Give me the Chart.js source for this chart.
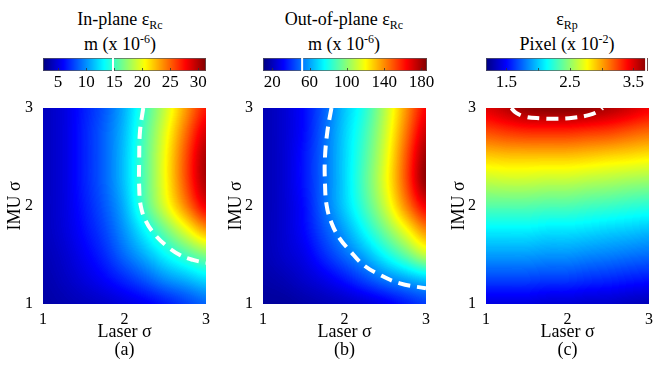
<!DOCTYPE html>
<html>
<head>
<meta charset="utf-8">
<script src="https://cdn.jsdelivr.net/npm/chart.js@4.4.1/dist/chart.umd.min.js"></script>
<style>
body { margin: 0; background: #fff; }
#fig { position: relative; width: 654px; height: 369px; overflow: hidden; font-family: "Liberation Serif", serif; color: #000; }
canvas { position: absolute; }
.ttl { position: absolute; top: 7px; width: 200px; text-align: center; font-size: 18px; line-height: 25px; white-space: nowrap; }
.sub { font-size: 12px; position: relative; top: 4px; line-height: 0; }
.sup { font-size: 12px; position: relative; top: -7px; line-height: 0; }
</style>
</head>
<body>
<div id="fig">
  <div class="ttl" style="left:20px">In-plane ε<span class="sub">Rc</span><br>m (x 10<span class="sup">-6</span>)</div>
  <div class="ttl" style="left:244px">Out-of-plane ε<span class="sub">Rc</span><br>m (x 10<span class="sup">-6</span>)</div>
  <div class="ttl" style="left:467px">ε<span class="sub">Rp</span><br>Pixel (x 10<span class="sup">-2</span>)</div>

  <canvas id="cbA" width="215" height="45" style="left:0;top:50px"></canvas>
  <canvas id="hmA" width="215" height="269" style="left:0;top:100px"></canvas>
  <canvas id="cbB" width="215" height="45" style="left:220px;top:50px"></canvas>
  <canvas id="hmB" width="215" height="269" style="left:220px;top:100px"></canvas>
  <canvas id="cbC" width="214" height="45" style="left:440px;top:50px"></canvas>
  <canvas id="hmC" width="214" height="269" style="left:440px;top:100px"></canvas>
</div>

<script>
// =====================
// DATA
// =====================
const laserSigma = [1, 1.25, 1.5, 1.75, 2, 2.25, 2.5, 2.75, 3];
const imuSigma = [1, 1.25, 1.5, 1.75, 2, 2.25, 2.5, 2.75, 3];

// rows go from IMU sigma = 1 (first) to 3 (last), columns follow laserSigma
const inPlane = [
    [3.3, 3.7, 4.0, 4.3, 4.9, 5.5, 6.4, 7.5, 8.7],
    [3.6, 4.1, 4.9, 5.8, 7.0, 8.4, 9.9, 11.0, 12.2],
    [3.8, 4.5, 5.6, 7.0, 9.0, 11.0, 13.1, 15.1, 16.9],
    [4.0, 4.8, 6.2, 7.8, 10.2, 13.1, 16.3, 19.8, 23.3],
    [4.0, 4.9, 6.5, 8.4, 11.0, 15.4, 19.6, 24.1, 28.5],
    [4.0, 4.9, 6.8, 8.7, 11.6, 15.7, 20.3, 25.6, 30.5],
    [4.0, 4.9, 6.8, 8.7, 11.6, 15.7, 20.3, 25.6, 30.5],
    [4.0, 4.9, 6.8, 8.7, 11.3, 15.4, 19.8, 24.7, 29.1],
    [4.0, 4.9, 6.6, 8.4, 11.0, 14.8, 18.9, 23.3, 27.3]
];
const outOfPlane = [
    [15, 15, 17, 19, 21, 24, 28, 35, 41],
    [17, 19, 23, 28, 35, 44, 53, 60, 66],
    [19, 23, 28, 39, 50, 62, 77, 93, 111],
    [19, 24, 32, 46, 60, 77, 96, 118, 141],
    [19, 24, 33, 51, 68, 87, 111, 141, 168],
    [19, 24, 35, 51, 69, 91, 116, 150, 186],
    [19, 24, 35, 51, 69, 89, 114, 149, 183],
    [19, 24, 33, 50, 68, 86, 111, 143, 174],
    [19, 24, 33, 48, 66, 82, 107, 138, 165]
];
const reprojection = [
    [1.41, 1.41, 1.41, 1.38, 1.38, 1.36, 1.36, 1.33, 1.31],
    [1.66, 1.66, 1.66, 1.64, 1.64, 1.61, 1.59, 1.56, 1.54],
    [1.89, 1.89, 1.89, 1.87, 1.87, 1.84, 1.82, 1.79, 1.77],
    [2.10, 2.10, 2.10, 2.07, 2.07, 2.05, 2.02, 2.00, 1.97],
    [2.35, 2.35, 2.35, 2.33, 2.33, 2.30, 2.28, 2.25, 2.23],
    [2.61, 2.63, 2.63, 2.61, 2.61, 2.58, 2.56, 2.53, 2.51],
    [2.89, 2.91, 2.91, 2.91, 2.91, 2.89, 2.86, 2.84, 2.81],
    [3.22, 3.27, 3.30, 3.30, 3.30, 3.27, 3.25, 3.19, 3.14],
    [3.50, 3.60, 3.70, 3.73, 3.73, 3.70, 3.63, 3.55, 3.45]
];

// colour ranges, colorbar ticks and the marked level
const rangeA = [2.3, 31.4];
const rangeB = [10, 186];
const rangeC = [1.18, 3.73];
const cbTicksA = [5, 10, 15, 20, 25, 30];
const cbTicksB = [20, 60, 100, 140, 180];
const cbTicksC = [1.5, 2, 2.5, 3, 3.5];
const cbLabelsA = ["5", "10", "15", "20", "25", "30"];
const cbLabelsB = ["20", "60", "100", "140", "180"];
const cbLabelsC = ["1.5", "", "2.5", "", "3.5"];
const levelA = 14.8;
const levelB = 52;
const levelC = 3.70;

// dashed contour
const contourA_x = [2.23, 2.19, 2.18, 2.18, 2.20, 2.26, 2.37, 2.52, 2.68, 2.84, 3.00];
const contourA_y = [3.00, 2.76, 2.45, 2.20, 2.00, 1.85, 1.71, 1.59, 1.50, 1.45, 1.42];
const contourB_x = [1.84, 1.79, 1.76, 1.76, 1.78, 1.84, 1.94, 2.07, 2.23, 2.43, 2.68, 3.00];
const contourB_y = [3.00, 2.76, 2.49, 2.25, 2.01, 1.83, 1.67, 1.54, 1.40, 1.30, 1.21, 1.16];
const contourC_x = [1.31, 1.37, 1.49, 1.66, 1.86, 2.07, 2.27, 2.39, 2.43];
const contourC_y = [3.00, 2.95, 2.91, 2.895, 2.89, 2.90, 2.93, 2.97, 3.00];

// =====================
// HELPERS
// =====================
Chart.defaults.font.family = "'Liberation Serif', serif";
Chart.defaults.color = "#000";

function jet(t) {
    const f = c => Math.round(255 * Math.max(0, Math.min(1, c)));
    return [f(1.5 - Math.abs(4 * t - 3)), f(1.5 - Math.abs(4 * t - 2)), f(1.5 - Math.abs(4 * t - 1))];
}

// colour ramp of the colorbar
const jetBar = {
    id: "jetBar",
    beforeDatasetsDraw(chart) {
        const { ctx, chartArea: a, scales: { x } } = chart;
        for (let px = Math.floor(a.left); px < a.right; px++) {
            const v = x.getValueForPixel(px + 0.5);
            const c = jet((v - x.min) / (x.max - x.min));
            ctx.fillStyle = `rgb(${c[0]},${c[1]},${c[2]})`;
            ctx.fillRect(px, a.top, 1, a.bottom - a.top);
        }
        ctx.save();
        ctx.strokeStyle = "rgba(50,50,50,0.8)";
        ctx.lineWidth = 1;
        x.ticks.forEach(t => {
            const px = Math.round(x.getPixelForValue(t.value)) + 0.5;
            ctx.beginPath();
            ctx.moveTo(px, a.bottom);
            ctx.lineTo(px, a.bottom - 3);
            ctx.stroke();
        });
        ctx.strokeStyle = "rgba(90,90,90,0.7)";
        ctx.strokeRect(a.left + 0.5, a.top + 0.5, a.right - a.left - 1, a.bottom - a.top - 1);
        ctx.restore();
    }
};

// heat map: grid values -> grey image -> smoothed -> jet colours
const field = {
    id: "field",
    beforeDatasetsDraw(chart, args, o) {
        const { ctx, chartArea: a, scales: { x, y } } = chart;
        const nx = o.xs.length, ny = o.ys.length;
        const src = document.createElement("canvas");
        src.width = nx;
        src.height = ny;
        const sc = src.getContext("2d");
        const img = sc.createImageData(nx, ny);
        for (let j = 0; j < ny; j++) {
            for (let i = 0; i < nx; i++) {
                const v = o.grid[ny - 1 - j][i];
                const g = Math.max(0, Math.min(255, Math.round(255 * (v - o.vmin) / (o.vmax - o.vmin))));
                const k = 4 * (j * nx + i);
                img.data[k] = img.data[k + 1] = img.data[k + 2] = g;
                img.data[k + 3] = 255;
            }
        }
        sc.putImageData(img, 0, 0);

        const w = Math.round(a.right - a.left), h = Math.round(a.bottom - a.top);
        const big = document.createElement("canvas");
        big.width = w;
        big.height = h;
        const bc = big.getContext("2d");
        bc.imageSmoothingEnabled = true;
        bc.imageSmoothingQuality = "high";
        const hx = (o.xs[1] - o.xs[0]) / 2, hy = (o.ys[1] - o.ys[0]) / 2;
        const x0 = x.getPixelForValue(o.xs[0] - hx) - a.left;
        const x1 = x.getPixelForValue(o.xs[nx - 1] + hx) - a.left;
        const y0 = y.getPixelForValue(o.ys[ny - 1] + hy) - a.top;
        const y1 = y.getPixelForValue(o.ys[0] - hy) - a.top;
        bc.drawImage(src, x0, y0, x1 - x0, y1 - y0);

        const px = bc.getImageData(0, 0, w, h);
        for (let k = 0; k < px.data.length; k += 4) {
            const c = jet(px.data[k] / 255);
            px.data[k] = c[0];
            px.data[k + 1] = c[1];
            px.data[k + 2] = c[2];
            px.data[k + 3] = 255;
        }
        bc.putImageData(px, 0, 0);
        ctx.drawImage(big, a.left, a.top);
    }
};

function makeColorbar(id, padL, padR, range, ticks, labels, level) {
    return new Chart(document.getElementById(id), {
        type: "scatter",
        data: {
            datasets: [{
                data: [{ x: level, y: 0 }, { x: level, y: 1 }],
                showLine: true,
                borderColor: "#fff",
                borderWidth: 2,
                pointRadius: 0,
                clip: 0
            }]
        },
        options: {
            responsive: false,
            animation: false,
            devicePixelRatio: 1,
            layout: { padding: { left: padL, right: padR, top: 8, bottom: 0 } },
            plugins: { legend: { display: false }, tooltip: { enabled: false } },
            scales: {
                x: {
                    type: "linear",
                    min: range[0],
                    max: range[1],
                    grid: { display: false, drawTicks: false },
                    border: { display: false },
                    afterBuildTicks: s => { s.ticks = ticks.map(v => ({ value: v })); },
                    ticks: {
                        padding: 1,
                        autoSkip: false,
                        maxRotation: 0,
                        font: { size: 17 },
                        callback: (v, i) => labels[i]
                    },
                    afterFit: s => { s.height = 24; s.paddingLeft = 0; s.paddingRight = 0; }
                },
                y: { display: false, min: 0, max: 1 }
            }
        },
        plugins: [jetBar]
    });
}

function makeHeatmap(id, axisW, padR, titleOff, grid, range, cx, cy, tag) {
    return new Chart(document.getElementById(id), {
        type: "scatter",
        data: {
            datasets: [{
                data: cx.map((v, i) => ({ x: v, y: cy[i] })),
                showLine: true,
                borderColor: "#fff",
                borderWidth: 4,
                borderDash: [12, 7],
                tension: 0.4,
                pointRadius: 0,
                clip: 0
            }]
        },
        options: {
            responsive: false,
            animation: false,
            devicePixelRatio: 1,
            layout: { padding: { left: 0, right: padR, top: 8, bottom: 0 } },
            plugins: {
                legend: { display: false },
                tooltip: { enabled: false },
                field: { grid: grid, xs: laserSigma, ys: imuSigma, vmin: range[0], vmax: range[1] }
            },
            scales: {
                x: {
                    type: "linear",
                    min: 1,
                    max: 3,
                    grid: { display: false, drawTicks: false },
                    border: { display: false },
                    ticks: { stepSize: 1, padding: 6, maxRotation: 0, font: { size: 16 } },
                    title: {
                        display: true,
                        text: ["Laser σ", tag],
                        font: { size: 18, lineHeight: 1 },
                        padding: { top: 0, bottom: 10 }
                    },
                    afterFit: s => { s.height = 65; s.paddingLeft = 0; s.paddingRight = 0; }
                },
                y: {
                    type: "linear",
                    min: 1,
                    max: 3,
                    grid: { display: false, drawTicks: false },
                    border: { display: false },
                    ticks: { stepSize: 1, padding: 10, font: { size: 16 } },
                    title: {
                        display: true,
                        text: "IMU σ",
                        font: { size: 18, lineHeight: 1 },
                        padding: { top: titleOff - 9, bottom: 0 }
                    },
                    afterFit: s => { s.width = axisW; s.paddingTop = 0; s.paddingBottom = 0; }
                }
            }
        },
        plugins: [field]
    });
}

// =====================
// BUILD THE THREE PANELS
// =====================
makeColorbar("cbA", 43, 9, rangeA, cbTicksA, cbLabelsA, levelA);
makeHeatmap("hmA", 43, 9, 15, inPlane, rangeA, contourA_x, contourA_y, "(a)");

makeColorbar("cbB", 43, 8, rangeB, cbTicksB, cbLabelsB, levelB);
makeHeatmap("hmB", 43, 9, 16, outOfPlane, rangeB, contourB_x, contourB_y, "(b)");

makeColorbar("cbC", 46, 6, rangeC, cbTicksC, cbLabelsC, levelC);
makeHeatmap("hmC", 46, 5, 19, reprojection, rangeC, contourC_x, contourC_y, "(c)");
</script>
</body>
</html>
